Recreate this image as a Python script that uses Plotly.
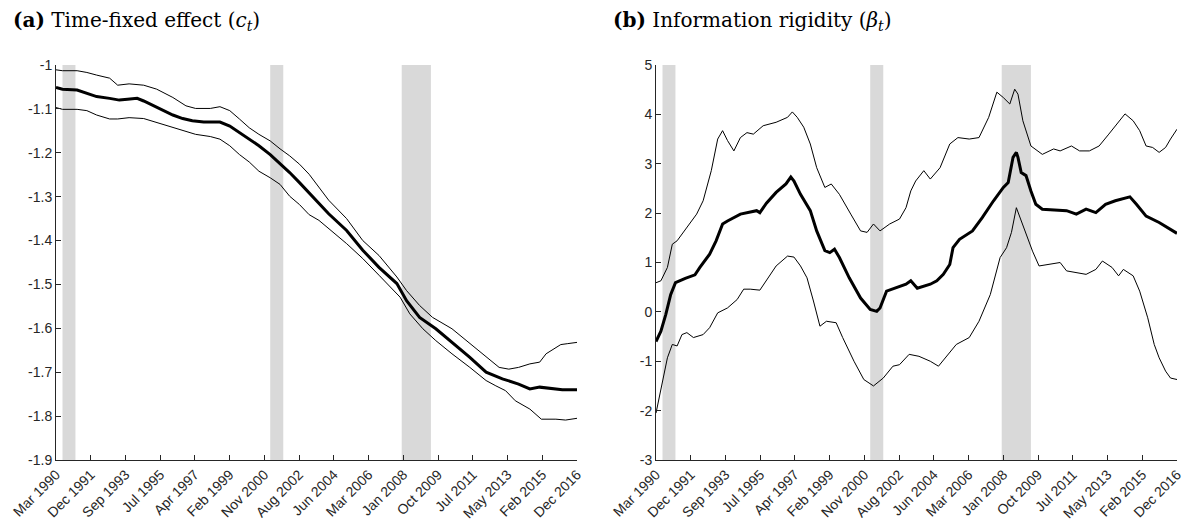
import numpy as np
import pandas as pd
import plotly.graph_objects as go
import plotly.subplots


# panel (a): time-fixed effect c_t, centre line and upper / lower bands
c_mid_dates = [
    "1990-03", "1990-07", "1991-04", "1991-10", "1992-04", "1992-12",
    "1993-06", "1993-11", "1994-05", "1994-09", "1995-03", "1995-09",
    "1996-03", "1996-09", "1997-03", "1997-10", "1998-04", "1998-08",
    "1999-02", "1999-08", "2000-02", "2000-08", "2001-03", "2001-09",
    "2002-03", "2002-09", "2003-03", "2003-07", "2004-03", "2005-02",
    "2005-12", "2006-10", "2007-09", "2008-03", "2008-11", "2009-09",
    "2010-07", "2011-06", "2012-04", "2013-02", "2013-12", "2014-07",
    "2015-01", "2015-09", "2016-03", "2016-12",
]
c_mid = [
    -1.051, -1.055, -1.057, -1.064, -1.072, -1.076,
    -1.080, -1.078, -1.076, -1.082, -1.093, -1.104,
    -1.114, -1.122, -1.127, -1.130, -1.130, -1.130,
    -1.139, -1.154, -1.169, -1.184, -1.204, -1.224,
    -1.245, -1.268, -1.291, -1.308, -1.339, -1.377,
    -1.422, -1.461, -1.498, -1.537, -1.575, -1.601,
    -1.632, -1.666, -1.700, -1.715, -1.727, -1.738,
    -1.734, -1.738, -1.740, -1.740,
]

c_hi_dates = [
    "1990-03", "1990-07", "1991-04", "1991-10", "1992-04", "1992-12",
    "1993-05", "1993-12", "1994-09", "1995-05", "1996-03", "1996-11",
    "1997-05", "1998-02", "1998-08", "1999-02", "1999-08", "2000-02",
    "2000-08", "2001-03", "2001-09", "2002-03", "2002-09", "2003-03",
    "2004-03", "2005-02", "2005-12", "2006-10", "2007-09", "2008-03",
    "2008-11", "2009-07", "2010-07", "2011-06", "2012-04", "2012-12",
    "2013-06", "2013-12", "2014-07", "2015-01", "2015-05", "2015-09",
    "2016-02", "2016-06", "2016-12",
]
c_hi = [
    -1.011, -1.013, -1.013, -1.017, -1.023, -1.030,
    -1.046, -1.043, -1.046, -1.055, -1.074, -1.093,
    -1.099, -1.099, -1.095, -1.104, -1.123, -1.143,
    -1.158, -1.173, -1.191, -1.207, -1.226, -1.249,
    -1.308, -1.350, -1.400, -1.434, -1.483, -1.514,
    -1.548, -1.575, -1.601, -1.635, -1.666, -1.689,
    -1.693, -1.689, -1.681, -1.677, -1.658, -1.649,
    -1.637, -1.635, -1.632,
]

c_lo_dates = [
    "1990-03", "1990-07", "1991-04", "1991-10", "1992-04", "1992-12",
    "1993-05", "1993-12", "1994-09", "1995-05", "1996-03", "1996-11",
    "1997-05", "1998-02", "1998-08", "1999-02", "1999-08", "2000-02",
    "2000-08", "2001-03", "2001-09", "2002-03", "2002-09", "2003-03",
    "2003-09", "2005-02", "2005-12", "2006-10", "2007-11", "2008-05",
    "2009-01", "2009-09", "2010-07", "2011-06", "2012-04", "2012-10",
    "2013-04", "2013-10", "2014-07", "2015-02", "2015-11", "2016-05",
    "2016-12",
]
c_lo = [
    -1.097, -1.101, -1.101, -1.104, -1.114, -1.123,
    -1.123, -1.120, -1.122, -1.131, -1.143, -1.152,
    -1.158, -1.163, -1.169, -1.184, -1.204, -1.221,
    -1.242, -1.257, -1.272, -1.299, -1.318, -1.341,
    -1.354, -1.407, -1.441, -1.479, -1.529, -1.567,
    -1.601, -1.628, -1.658, -1.689, -1.719, -1.731,
    -1.742, -1.765, -1.784, -1.807, -1.807, -1.809,
    -1.805,
]

# panel (b): information rigidity beta_t
beta_mid_dates = [
    "1990-03", "1990-06", "1990-09", "1990-12", "1991-03", "1991-09",
    "1992-03", "1992-06", "1992-12", "1993-04", "1993-08", "1993-11",
    "1994-07", "1995-05", "1995-07", "1995-11", "1996-05", "1996-11",
    "1997-02", "1997-04", "1997-08", "1998-02", "1998-06", "1998-11",
    "1999-02", "1999-05", "1999-08", "2000-02", "2000-09", "2001-03",
    "2001-07", "2001-09", "2002-01", "2002-07", "2003-01", "2003-04",
    "2003-08", "2004-04", "2004-08", "2004-12", "2005-04", "2005-06",
    "2005-10", "2006-06", "2006-12", "2007-07", "2008-01", "2008-04",
    "2008-07", "2008-09", "2008-10", "2008-12", "2009-03", "2009-06",
    "2009-09", "2010-01", "2010-10", "2011-04", "2011-10", "2012-04",
    "2012-10", "2013-04", "2013-10", "2014-05", "2014-07", "2014-11",
    "2015-05", "2016-01", "2016-12",
]
beta_mid = [
    -0.60, -0.39, -0.05, 0.35, 0.59, 0.68,
    0.75, 0.90, 1.17, 1.44, 1.78, 1.84,
    1.98, 2.05, 2.01, 2.20, 2.42, 2.59,
    2.73, 2.65, 2.38, 2.05, 1.64, 1.24,
    1.20, 1.27, 1.10, 0.69, 0.28, 0.05,
    0.01, 0.08, 0.42, 0.49, 0.56, 0.63,
    0.48, 0.56, 0.63, 0.76, 0.96, 1.30,
    1.47, 1.64, 1.91, 2.25, 2.52, 2.62,
    3.13, 3.23, 3.13, 2.82, 2.76, 2.45,
    2.18, 2.08, 2.06, 2.05, 1.98, 2.08,
    2.01, 2.18, 2.25, 2.32, 2.33, 2.18,
    1.94, 1.81, 1.59,
]

beta_hi_dates = [
    "1990-03", "1990-06", "1990-10", "1991-01", "1991-04", "1991-10",
    "1992-04", "1992-08", "1993-01", "1993-05", "1993-08", "1993-11",
    "1994-03", "1994-07", "1994-11", "1995-03", "1995-09", "1996-05",
    "1996-12", "1997-03", "1997-06", "1997-10", "1998-02", "1998-06",
    "1998-11", "1999-03", "1999-08", "2000-03", "2000-09", "2001-01",
    "2001-05", "2001-09", "2002-03", "2002-09", "2003-01", "2003-04",
    "2003-07", "2003-12", "2004-04", "2004-10", "2005-04", "2005-09",
    "2006-04", "2006-10", "2007-04", "2007-09", "2008-01", "2008-05",
    "2008-08", "2008-10", "2009-01", "2009-06", "2010-01", "2010-08",
    "2010-12", "2011-07", "2011-12", "2012-06", "2012-12", "2013-06",
    "2013-11", "2014-04", "2014-09", "2015-01", "2015-05", "2015-09",
    "2016-01", "2016-05", "2016-08", "2016-12",
]
beta_hi = [
    0.59, 0.63, 0.90, 1.37, 1.44, 1.71,
    1.98, 2.25, 2.86, 3.50, 3.67, 3.47,
    3.26, 3.53, 3.63, 3.60, 3.77, 3.84,
    3.94, 4.05, 3.94, 3.74, 3.40, 2.92,
    2.52, 2.59, 2.38, 1.98, 1.64, 1.61,
    1.78, 1.64, 1.78, 1.88, 2.11, 2.45,
    2.65, 2.86, 2.69, 2.92, 3.40, 3.53,
    3.50, 3.53, 3.94, 4.45, 4.34, 4.21,
    4.51, 4.41, 3.87, 3.36, 3.19, 3.30,
    3.26, 3.36, 3.26, 3.26, 3.36, 3.60,
    3.80, 4.01, 3.87, 3.67, 3.36, 3.33,
    3.23, 3.33, 3.50, 3.70,
]

beta_lo_dates = [
    "1990-03", "1990-06", "1990-10", "1991-01", "1991-04", "1991-07",
    "1991-10", "1992-02", "1992-08", "1992-12", "1993-05", "1993-11",
    "1994-05", "1994-09", "1995-01", "1995-07", "1995-11", "1996-05",
    "1996-12", "1997-04", "1997-08", "1997-12", "1998-04", "1998-08",
    "1998-12", "1999-06", "1999-10", "2000-05", "2000-11", "2001-05",
    "2001-11", "2002-05", "2002-09", "2003-03", "2003-09", "2004-04",
    "2004-09", "2005-02", "2005-08", "2006-04", "2006-10", "2007-05",
    "2007-11", "2008-03", "2008-06", "2008-09", "2008-12", "2009-03",
    "2009-07", "2009-11", "2010-06", "2010-12", "2011-04", "2011-10",
    "2012-04", "2012-10", "2013-02", "2013-08", "2013-12", "2014-03",
    "2014-09", "2015-01", "2015-06", "2015-10", "2016-01", "2016-05",
    "2016-08", "2016-12",
]
beta_lo = [
    -2.05, -1.54, -0.93, -0.66, -0.69, -0.46,
    -0.42, -0.52, -0.46, -0.32, -0.02, 0.08,
    0.25, 0.46, 0.46, 0.44, 0.63, 0.93,
    1.13, 1.11, 0.93, 0.69, 0.22, -0.29,
    -0.19, -0.22, -0.52, -1.00, -1.37, -1.50,
    -1.34, -1.10, -1.07, -0.86, -0.90, -1.00,
    -1.10, -0.90, -0.66, -0.52, -0.19, 0.35,
    1.10, 1.30, 1.61, 2.11, 1.84, 1.61,
    1.23, 0.93, 0.96, 1.00, 0.83, 0.79,
    0.76, 0.86, 1.03, 0.90, 0.73, 0.86,
    0.73, 0.42, -0.12, -0.66, -0.93, -1.20,
    -1.34, -1.37,
]

# NBER recessions shaded in both panels
recession_starts = ["1990-07-01", "2001-03-01", "2007-12-01"]
recession_ends = ["1991-03-01", "2001-11-01", "2009-06-01"]

x_tick_labels = [
    "Mar 1990", "Dec 1991", "Sep 1993", "Jul 1995", "Apr 1997", "Feb 1999",
    "Nov 2000", "Aug 2002", "Jun 2004", "Mar 2006", "Jan 2008", "Oct 2009",
    "Jul 2011", "May 2013", "Feb 2015", "Dec 2016",
]
c_ticks = [-1.9, -1.8, -1.7, -1.6, -1.5, -1.4, -1.3, -1.2, -1.1, -1.0]
beta_ticks = [-3, -2, -1, 0, 1, 2, 3, 4, 5]

titles = [
    "<b>(a)</b> Time-fixed effect (<i>c</i><sub><i>t</i></sub>)",
    "<b>(b)</b> Information rigidity (<i>β</i><sub><i>t</i></sub>)",
]

X_START = "1990-03-01"
X_END = "2016-12-01"
AXIS_COLOR = "#262626"
TICK_FONT = dict(family="Liberation Sans, Arial, sans-serif", size=14, color=AXIS_COLOR)

# the page body adds an 8px margin, so the figure is 8px smaller and
# every position below is the screen pixel minus 8
PAD = 8
W, H = 1191 - PAD, 528 - PAD


def px_x(p):
    return (p - PAD) / W


def px_y(p):
    return 1 - (p - PAD) / H


def main():
    fig = plotly.subplots.make_subplots(rows=1, cols=2)

    # matlab style: 16 evenly spaced date ticks between the ends
    t0 = pd.Timestamp(X_START).value
    t1 = pd.Timestamp(X_END).value
    tick_dates = pd.to_datetime(np.linspace(t0, t1, len(x_tick_labels)))

    panels = [
        (c_mid_dates, c_mid, c_hi_dates, c_hi, c_lo_dates, c_lo),
        (beta_mid_dates, beta_mid, beta_hi_dates, beta_hi, beta_lo_dates, beta_lo),
    ]

    for col, (md, mv, hd, hv, ld, lv) in enumerate(panels, start=1):
        for d, v in [(hd, hv), (ld, lv)]:
            fig.add_trace(
                go.Scatter(
                    x=pd.to_datetime(d), y=v, mode="lines",
                    line=dict(color="#000", width=1),
                    showlegend=False, hoverinfo="skip",
                ),
                row=1, col=col,
            )
        fig.add_trace(
            go.Scatter(
                x=pd.to_datetime(md), y=mv, mode="lines",
                line=dict(color="#000", width=3),
                showlegend=False,
            ),
            row=1, col=col,
        )

        for s, e in zip(recession_starts, recession_ends):
            fig.add_vrect(
                x0=s, x1=e, fillcolor="#d9d9d9", opacity=1,
                line_width=0, layer="below", row=1, col=col,
            )

    common = dict(
        ticks="inside",
        ticklen=5,
        tickcolor=AXIS_COLOR,
        showline=True,
        linecolor=AXIS_COLOR,
        linewidth=1,
        showgrid=False,
        zeroline=False,
        tickfont=TICK_FONT,
        automargin=False,
    )
    fig.update_xaxes(
        type="date",
        range=[X_START, X_END],
        tickvals=tick_dates,
        ticktext=x_tick_labels,
        tickangle=-45,
        **common
    )
    fig.update_yaxes(**common)
    fig.update_yaxes(
        range=[c_ticks[0], c_ticks[-1]],
        tickvals=c_ticks, ticktext=["%g" % v for v in c_ticks],
        row=1, col=1,
    )
    fig.update_yaxes(
        range=[beta_ticks[0], beta_ticks[-1]],
        tickvals=beta_ticks, ticktext=["%g" % v for v in beta_ticks],
        row=1, col=2,
    )

    fig.update_layout(
        width=W,
        height=H,
        plot_bgcolor="#fff",
        paper_bgcolor="#fff",
        margin=dict(l=0, r=0, t=0, b=0),
        xaxis=dict(domain=[px_x(56), px_x(577)]),
        xaxis2=dict(domain=[px_x(656), px_x(1177)]),
        yaxis=dict(domain=[px_y(460), px_y(65)]),
        yaxis2=dict(domain=[px_y(460), px_y(65)]),
    )

    for x, text in zip([px_x(11), px_x(611)], titles):
        fig.add_annotation(
            x=x, y=px_y(21), xref="paper", yref="paper",
            xanchor="left", yanchor="middle", showarrow=False,
            text=text,
            font=dict(family="DejaVu Serif, serif", size=20, color="#000"),
        )

    fig.write_html("out.html")


if __name__ == "__main__":
    main()
